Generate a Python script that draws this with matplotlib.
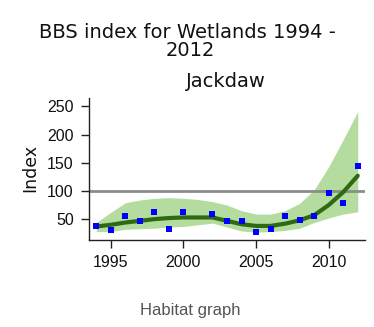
import matplotlib
matplotlib.use("Agg")
import matplotlib.pyplot as plt
import numpy as np

years_pts = [1994, 1995, 1996, 1997, 1998, 1999, 2000, 2002, 2003, 2004, 2005, 2006, 2007, 2008, 2009, 2010, 2011, 2012]
index_pts = [38, 30, 55, 46, 63, 32, 63, 60, 46, 46, 27, 33, 55, 49, 55, 97, 78, 145]

years_s = [1994, 1995, 1996, 1997, 1998, 1999, 2000, 2001, 2002, 2003, 2004, 2005, 2006, 2007, 2008, 2009, 2010, 2011, 2012]
smooth = [37, 40, 44, 47, 50, 52, 53, 53, 53, 47, 41, 38, 38, 42, 48, 57, 75, 98, 127]
upper = [44, 62, 79, 84, 87, 88, 87, 85, 81, 75, 65, 59, 59, 65, 78, 102, 143, 191, 241]
lower = [28, 28, 32, 33, 34, 36, 37, 40, 43, 36, 29, 27, 28, 30, 34, 44, 52, 59, 63]

xticks = [1995, 2000, 2005, 2010]
yticks = [50, 100, 150, 200, 250]

W, H = 374, 327
fig = plt.figure(figsize=(W/100, H/100), dpi=100)
ax = fig.add_axes([89/W, 1-240/H, 276/W, 142/H])

ax.fill_between(years_s, lower, upper, color="#b3dc9e", lw=0, zorder=1)
ax.axhline(100, color="#8c8c8c", lw=2, zorder=2)
ax.plot(years_s, smooth, color="#2f6a12", lw=3, solid_capstyle="round", zorder=3)
ax.scatter(years_pts, index_pts, marker="s", s=16, color="#0000ff", zorder=4, linewidths=0)

ax.set_xlim(1993.5, 2012.5)
ax.set_ylim(13, 265)
ax.set_xticks(xticks)
ax.set_yticks(yticks)
for s in ["top", "right"]:
    ax.spines[s].set_visible(False)
for s in ["left", "bottom"]:
    ax.spines[s].set_color("#222222")
    ax.spines[s].set_linewidth(1)
ax.tick_params(direction="out", length=6, width=1, pad=5, colors="#222222", labelcolor="#111111")
for lab in ax.get_xticklabels() + ax.get_yticklabels():
    lab.set_family("Liberation Sans")
    lab.set_fontsize(11.5)

fig.text(30/W, 1-168/H, "Index", rotation=90, ha="center", va="center", fontsize=12.5, color="#111111")

fig.text(187.5/W, 1-32/H, "BBS index for Wetlands 1994 -", ha="center", va="center", fontsize=14, color="#111111")
fig.text(190/W, 1-50/H, "2012", ha="center", va="center", fontsize=14, color="#111111")
fig.text(226/W, 1-81/H, "Jackdaw", ha="center", va="center", fontsize=14, color="#111111")
fig.text(190/W, 1-310/H, "Habitat graph", ha="center", va="center", fontsize=12, color="#555555", family="Liberation Sans")

fig.savefig("out.png", dpi=100)
